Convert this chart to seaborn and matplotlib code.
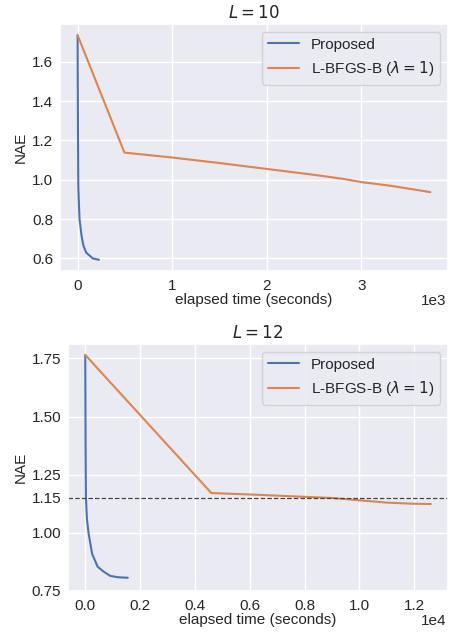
import matplotlib
matplotlib.use("Agg")
import matplotlib.pyplot as plt
import seaborn as sns
import pandas as pd

# ---- data ----
top_prop_t = [0, 3, 7, 14, 20, 40, 60, 90, 120, 160, 225]
top_prop_nae = [1.735, 1.30, 0.97, 0.87, 0.80, 0.72, 0.667, 0.63, 0.617, 0.600, 0.593]
top_lbfgs_t = [0, 495, 1000, 1500, 2000, 2500, 2800, 3000, 3300, 3730]
top_lbfgs_nae = [1.735, 1.138, 1.113, 1.085, 1.055, 1.025, 1.005, 0.988, 0.970, 0.937]

bot_prop_t = [0, 10, 24, 60, 121, 250, 448, 650, 909, 1200, 1552]
bot_prop_nae = [1.765, 1.40, 1.154, 1.06, 0.998, 0.91, 0.855, 0.835, 0.815, 0.809, 0.807]
bot_lbfgs_t = [0, 4600, 6000, 8000, 9000, 10000, 11000, 12000, 12600]
bot_lbfgs_nae = [1.765, 1.171, 1.165, 1.155, 1.150, 1.140, 1.130, 1.125, 1.124]

bot_yticks = [0.75, 1.00, 1.15, 1.25, 1.50, 1.75]
threshold = 1.15
labels = ["Proposed", r"L-BFGS-B ($\lambda = 1$)"]
titles = [r"$L = 10$", r"$L = 12$"]

sns.set_theme(style="darkgrid")
plt.rcParams["font.family"] = ["Liberation Sans", "DejaVu Sans"]
plt.rcParams["mathtext.fontset"] = "dejavusans"
pal = sns.color_palette("deep")

fig = plt.figure(figsize=(4.56, 6.33), dpi=100)
ax1 = fig.add_axes([60/456, 1-271/633, 388/456, 247/633])
ax2 = fig.add_axes([68/456, 1-591/633, 380/456, 247/633])

FS = 11

def panel(ax, pt, pn, lt, ln, title):
    df = pd.concat([
        pd.DataFrame({"t": pt, "nae": pn, "method": labels[0]}),
        pd.DataFrame({"t": lt, "nae": ln, "method": labels[1]}),
    ])
    sns.lineplot(data=df, x="t", y="nae", hue="method", ax=ax,
                 palette=[pal[0], pal[1]], sort=False, estimator=None, linewidth=1.5)
    ax.set_title(title, fontsize=12, pad=4)
    ax.tick_params(axis="x", labelsize=FS, length=0, pad=6)
    ax.tick_params(axis="y", labelsize=FS, length=0, pad=5)
    ax.set_xlabel("elapsed time (seconds)", fontsize=FS, labelpad=0)
    ax.set_ylabel("NAE", fontsize=FS, labelpad=3)
    ax.ticklabel_format(axis="x", style="sci", scilimits=(0, 0))
    leg = ax.legend(loc="upper right", fontsize=FS)
    leg.set_title(None)

panel(ax1, top_prop_t, top_prop_nae, top_lbfgs_t, top_lbfgs_nae, titles[0])
panel(ax2, bot_prop_t, bot_prop_nae, bot_lbfgs_t, bot_lbfgs_nae, titles[1])
ax2.axhline(threshold, color="#444444", linestyle="--", linewidth=0.9)
ax2.set_yticks(bot_yticks)
ax2.set_ylim(0.75, 1.812)

# move the scientific offset text onto the x-label line (as in the reference)
fig.canvas.draw()
for ax in (ax1, ax2):
    off = ax.xaxis.get_major_formatter().get_offset()
    ax.xaxis.get_offset_text().set_visible(False)
    ax.annotate(off, xy=(1, 0), xycoords="axes fraction",
                xytext=(-1, -21.5), textcoords="offset points",
                ha="right", va="center", fontsize=FS, color=".15")

fig.savefig("out.png", dpi=100)
